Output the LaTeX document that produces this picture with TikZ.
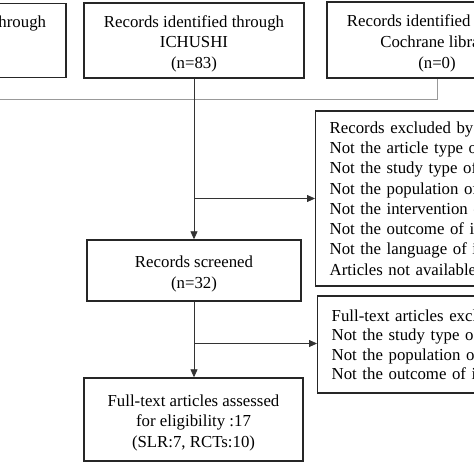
\documentclass[tikz,border=0pt]{standalone}
\usepackage{fontspec}
\setmainfont{Liberation Serif}
\usetikzlibrary{arrows.meta}
\newcommand\tsp{\rule{0pt}{18.5pt}}
\begin{document}
\begin{tikzpicture}[x=1pt,y=-1pt,
  box/.style={draw=black!85, line width=1.4pt, align=center, inner sep=0pt,
    font=\fontsize{16.8}{20.6}\selectfont},
  ebox/.style={draw=black!85, line width=1.4pt, align=left, inner xsep=14pt,
    inner ysep=0pt, anchor=west, text width=240pt,
    font=\fontsize{16.8}{20.3}\selectfont},
  conn/.style={draw=black!80, line width=0.8pt},
  gconn/.style={draw=black!40, line width=1pt},
  arr/.style={-{Triangle[length=8pt,width=7pt]}}]
\useasboundingbox (0,0) rectangle (474,474);
\clip (0,0) rectangle (474,474);
% top row
\node[box, minimum width=220pt, minimum height=74pt] (L) at (-44,40.5)
  {\tsp Records identified through\\\phantom{(n=0)}\\\phantom{(n=0)}};
\node[box, minimum width=220pt, minimum height=75pt] (M) at (194,40.5)
  {\tsp Records identified through\\ICHUSHI\\(n=83)};
\node[box, minimum width=220pt, minimum height=76pt] (R) at (437,40)
  {\tsp Records identified through\\Cochrane library\\(n=0)};
\coordinate (j) at (194,99);
\draw[gconn] (L.south) |- (j);
\draw[gconn] (R.south) |- (j);
% screening
\node[box, minimum width=214pt, minimum height=61pt] (S) at (194,270.5)
  {\tsp Records screened\\(n=32)};
\node[ebox, minimum height=175pt] (E1) at (315,198.5)
  {Records excluded by\\
   Not the article type of\\
   Not the study type of\\
   Not the population of\\
   Not the intervention of\\
   Not the outcome of interest\\
   Not the language of interest\\
   Articles not available};
\draw[conn, arr] (M.south) -- (S.north);
\coordinate (b1) at (194,198.5);
\draw[conn, arr] (b1) -- (b1 -| E1.west);
% eligibility
\node[box, minimum width=219pt, minimum height=83pt] (F) at (193.5,419.5)
  {\tsp Full-text articles assessed\\for eligibility :17\\(SLR:7, RCTs:10)};
\node[ebox, minimum height=97pt, font=\fontsize{16.8}{19.5}\selectfont] (E2) at (317,344.5)
  {Full-text articles excluded\\
   Not the study type of\\
   Not the population of\\
   Not the outcome of interest};
\draw[conn, arr] (S.south) -- (S.south |- F.north);
\coordinate (b2) at (194,343.5);
\draw[conn, arr] (b2) -- (b2 -| E2.west);
\end{tikzpicture}
\end{document}
